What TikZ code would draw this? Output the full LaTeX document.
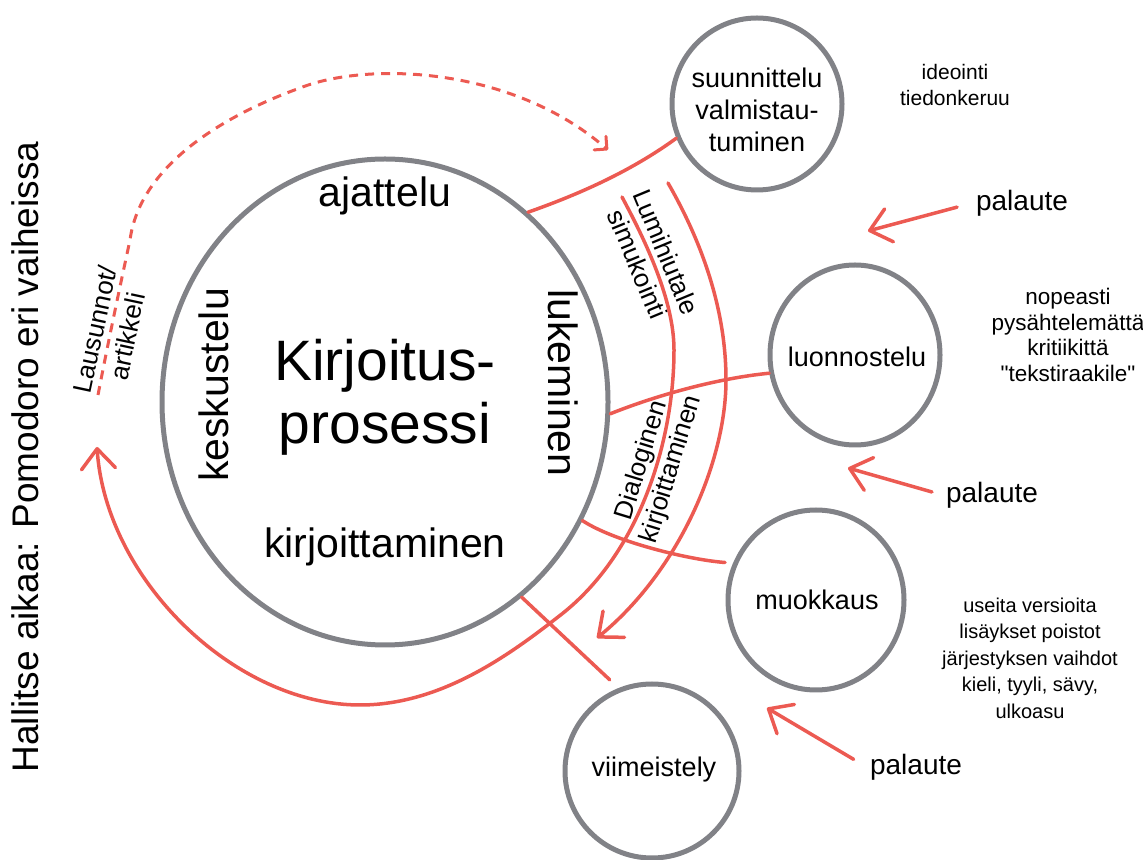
\documentclass[tikz,border=0pt]{standalone}
\usepackage{fontspec}
\setmainfont{Liberation Sans}
\newfontfamily\notefont{Liberation Sans}
\usetikzlibrary{shapes.geometric,arrows.meta}
\definecolor{ringgray}{RGB}{129,130,135}
\definecolor{flowred}{RGB}{236,90,82}
\begin{document}
\begin{tikzpicture}[>={Straight Barb[round,length=20bp,width=34bp]},line join=bevel,
  ring/.style={ellipse,draw=ringgray,line width=5bp,inner sep=0pt},
  flow/.style={flowred,line width=3.5bp,line cap=round},
  hint/.style={flowred,line width=3bp,dash pattern=on 9bp off 7bp},
  big/.style={font=\fontsize{41bp}{49bp}\selectfont},
  step_label/.style={align=center,font=\fontsize{27bp}{32bp}\selectfont},
  note/.style={align=center,font=\notefont\fontsize{21bp}{26bp}\selectfont},
  side/.style={align=center,font=\fontsize{26bp}{31bp}\selectfont}]
%%
\useasboundingbox (0bp,0bp) rectangle (1143bp,860bp);
\node (node_kirjoitus) at (385bp,458bp) [ring,minimum width=446bp,minimum height=486bp] {};
  \node (node_suunnittelu) at (757bp,756bp) [ring,minimum width=170bp,minimum height=172bp] {};
  \node (node_luonnostelu) at (855bp,505bp) [ring,minimum width=170bp,minimum height=180bp] {};
  \node (node_muokkaus) at (816bp,260bp) [ring,minimum width=176bp,minimum height=180bp] {};
  \node (node_viimeistely) at (652bp,89bp) [ring,minimum width=174bp,minimum height=174bp] {};
%
  \node (node_prosessi) at (385bp,463bp) [align=center,font=\fontsize{57bp}{63bp}\selectfont] {Kirjoitus-\\prosessi};
  \node (node_ajattelu) at (385bp,653bp) [big,anchor=base] {ajattelu};
  \node (node_kirjoittaminen) at (385bp,302bp) [big,anchor=base] {kirjoittaminen};
  \node (node_keskustelu) at (228bp,475bp) [big,anchor=base,rotate=90] {keskustelu};
  \node (node_lukeminen) at (548bp,477bp) [big,anchor=base,rotate=-90] {lukeminen};
  \node (node_suunnittelu_t) at (757bp,750bp) [step_label] {suunnittelu\\valmistau-\\tuminen};
  \node (node_luonnostelu_t) at (857bp,503bp) [step_label] {luonnostelu};
  \node (node_muokkaus_t) at (817bp,260bp) [step_label] {muokkaus};
  \node (node_viimeistely_t) at (654bp,90bp) [step_label] {viimeistely};
%
  \node (node_ideointi) at (955bp,775bp) [note] {ideointi\\tiedonkeruu};
  \node (node_nopeasti) at (1068bp,525bp) [note,font=\notefont\fontsize{22.5bp}{25.5bp}\selectfont] {nopeasti\\pysähtelemättä\\kritiikittä\\"tekstiraakile"};
  \node (node_useita) at (1030bp,202bp) [note,font=\notefont\fontsize{20bp}{26.5bp}\selectfont] {useita versioita\\lisäykset poistot\\järjestyksen vaihdot\\kieli, tyyli, sävy,\\ulkoasu};
  \node (node_palaute_a) at (1022bp,657bp) [font=\fontsize{28bp}{32bp}\selectfont] {palaute};
  \node (node_palaute_b) at (992bp,365bp) [font=\fontsize{28bp}{32bp}\selectfont] {palaute};
  \node (node_palaute_c) at (916bp,93bp) [font=\fontsize{28bp}{32bp}\selectfont] {palaute};
  \node (node_hallitse) at (38bp,403bp) [anchor=base,rotate=90,font=\fontsize{37bp}{40bp}\selectfont] {Hallitse aikaa: Pomodoro eri vaiheissa};
  \node (node_lausunnot) at (111bp,527bp) [side,rotate=78,font=\fontsize{26bp}{33bp}\selectfont] {Lausunnot/\\artikkeli};
  \node (node_lumi) at (652bp,602bp) [side,rotate=-67.5] {Lumihiutale\\simukointi};
  \node (node_dialog) at (657bp,395bp) [side,rotate=73] {Dialoginen\\kirjoittaminen};
%
  \coordinate (tip_a) at (868bp,629bp);
  \coordinate (tip_b) at (848bp,392bp);
  \coordinate (tip_c) at (767bp,152bp);
  \coordinate (lumi_in) at (622bp,663bp);
  \coordinate (lumi_out) at (668bp,677bp);
  \coordinate (hint_start) at (98bp,465bp);
  \coordinate (hint_end) at (608bp,710bp);
  \coordinate (back_end) at (97bp,413bp);
  \coordinate (dialog_end) at (597bp,222bp);
%
  \draw [flow] (node_kirjoitus.53) ..controls (577bp,665bp) and (630bp,688bp) .. (node_suunnittelu.203);
  \draw [flow] (node_kirjoitus.-3) ..controls (660bp,466bp) and (720bp,482bp) .. (node_luonnostelu.192);
  \draw [flow,shorten >=8bp] (node_kirjoitus.-31) ..controls (615bp,318bp) and (690bp,300bp) .. (node_muokkaus.156);
  \draw [flow,shorten >=12bp] (node_kirjoitus.-55) -- (node_viimeistely.112);
  \draw [flow,->] (lumi_in) ..controls (645bp,620bp) and (674bp,560bp) .. (674bp,510bp)
    ..controls (674bp,420bp) and (640bp,305bp) .. (558bp,243bp)
    ..controls (508bp,204bp) and (440bp,155bp) .. (360bp,155bp)
    ..controls (235bp,155bp) and (106bp,280bp) .. (back_end);
  \draw [flow,->] (lumi_out) ..controls (695bp,630bp) and (726bp,560bp) .. (726bp,480bp)
    ..controls (726bp,400bp) and (680bp,290bp) .. (dialog_end);
  \draw [hint,-{Straight Barb[round,length=9bp,width=18bp]}] (hint_start) ..controls (108bp,517bp) and (119bp,569bp) .. (130bp,620bp)
    ..controls (140bp,695bp) and (225bp,745bp) .. (300bp,772bp)
    ..controls (365bp,798bp) and (510bp,795bp) .. (hint_end);
  \draw [flow,->,shorten <=16bp] (node_palaute_a.west) -- (tip_a);
  \draw [flow,->,shorten <=11bp] (node_palaute_b.west) -- (tip_b);
  \draw [flow,->,shorten <=15bp] (node_palaute_c.west) -- (tip_c);
%
\end{tikzpicture}
\end{document}
